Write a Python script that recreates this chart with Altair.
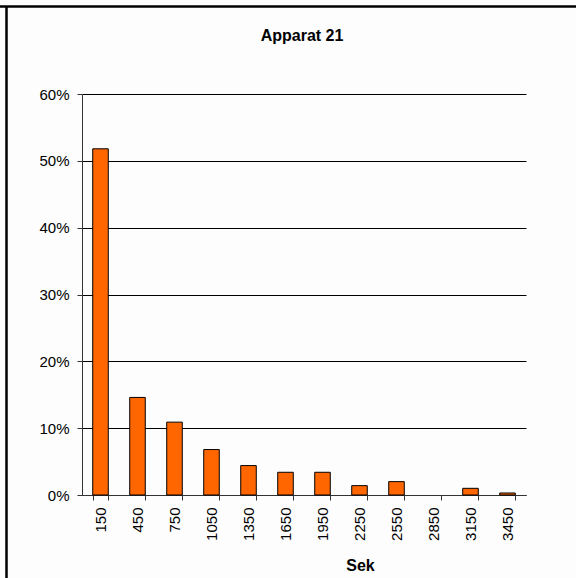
import altair as alt
import pandas as pd

# Share of durations per 300-second bin, labelled by bin centre (seconds)
bins = ["150", "450", "750", "1050", "1350", "1650", "1950",
        "2250", "2550", "2850", "3150", "3450"]
shares = [0.518, 0.146, 0.109, 0.068, 0.044, 0.034, 0.034,
          0.014, 0.020, 0.0, 0.010, 0.003]
chart_title = ["Apparat 21"]

df = pd.DataFrame({"Sek": bins, "Andel": shares})
title_df = pd.DataFrame({"label": chart_title})

FONT = "Liberation Sans"
INK = "#000000"

bars = alt.Chart(df).mark_bar(
    color="#FF6600", stroke="#000000", strokeWidth=1
).encode(
    x=alt.X(
        "Sek:N",
        sort=bins,
        scale=alt.Scale(paddingInner=0.58, paddingOuter=0.29),
        axis=alt.Axis(
            title="Sek",
            titleFont=FONT,
            titleFontSize=16,
            titleFontWeight="bold",
            titleColor=INK,
            titleX=278,
            titleY=75,
            titleBaseline="alphabetic",
            labelAngle=270,
            labelFont=FONT,
            labelFontSize=15,
            labelColor=INK,
            labelPadding=7,
            tickBand="extent",
            tickSize=5,
            tickColor="#333333",
            domainColor="#333333",
            grid=False,
        ),
    ),
    y=alt.Y(
        "Andel:Q",
        scale=alt.Scale(domain=[0, 0.6], nice=False),
        axis=alt.Axis(
            title=None,
            values=[0, 0.1, 0.2, 0.3, 0.4, 0.5, 0.6],
            format=".0%",
            labelFont=FONT,
            labelFontSize=15,
            labelColor=INK,
            labelPadding=8,
            tickSize=5,
            tickColor="#333333",
            domainColor="#333333",
            grid=True,
            gridColor="#000000",
            gridWidth=1,
            gridOpacity=1,
        ),
    ),
    # empty bins get no outline
    strokeOpacity=alt.condition("datum.Andel > 0", alt.value(1), alt.value(0)),
)

# Chart heading, centred over the plot area
heading = alt.Chart(title_df).mark_text(
    font=FONT, fontSize=16, fontWeight="bold", color=INK,
    align="center", baseline="alphabetic"
).encode(
    text="label:N", x=alt.value(220), y=alt.value(-53)
)

# Frame lines around the figure (top and left edges)
frame_top = alt.Chart(title_df).mark_rule(color="#000000", strokeWidth=2.5).encode(
    x=alt.value(-82), x2=alt.value(500), y=alt.value(-87.5)
)
frame_left = alt.Chart(title_df).mark_rule(color="#000000", strokeWidth=2.5).encode(
    x=alt.value(-75.5), y=alt.value(-88), y2=alt.value(500)
)

chart = alt.layer(frame_top, frame_left, heading, bars).properties(
    width=444,
    height=401,
    autosize=alt.AutoSizeParams(type="none"),
    padding={"left": 82, "top": 94, "right": 50, "bottom": 83},
    background="#FDFDFD",
).configure_view(stroke=None)

chart.save("out.html", embed_options={"renderer": "svg", "actions": False})
